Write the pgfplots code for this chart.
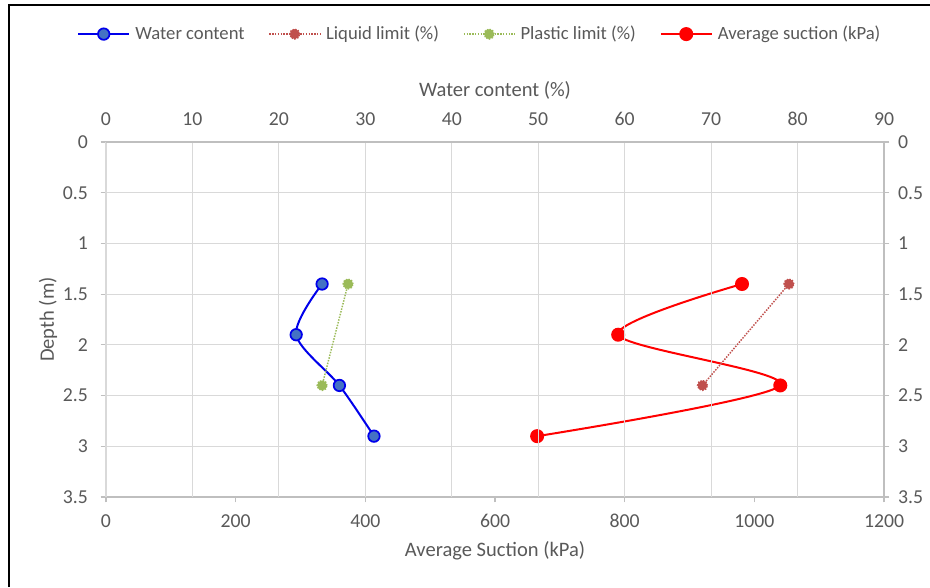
\documentclass[border=0pt]{standalone}
\usepackage{pgfplots}
\pgfplotsset{compat=1.18}
\usepackage{fontspec}
\setmainfont{Carlito}
\definecolor{txt}{RGB}{89,89,89}
\definecolor{gridc}{RGB}{217,217,217}
\definecolor{axc}{RGB}{191,191,191}
\definecolor{wcfill}{RGB}{68,114,196}
\definecolor{wcline}{RGB}{0,0,235}
\definecolor{llc}{RGB}{192,80,77}
\definecolor{plc}{RGB}{155,187,89}
\begin{document}
\begin{tikzpicture}
\useasboundingbox (0,0) rectangle (697.5pt,440.25pt);
\draw[black, line width=1.1pt] (6.75pt,0) -- (6.75pt,436.5pt) -- (697.5pt,436.5pt);
\pgfplotsset{common/.style={
  width=583.5pt, height=266.25pt, scale only axis,
  at={(79.5pt,67.5pt)}, anchor=south west,
  y dir=reverse, ymin=0, ymax=3.5, ytick={0,0.5,1,1.5,2,2.5,3,3.5},
  yticklabels={0,0.5,1,1.5,2,2.5,3,3.5},
  ticklabel style={font=\fontsize{14.8}{16}\selectfont, text=txt},
  label style={font=\fontsize{15.4}{17}\selectfont, text=txt},
  /pgf/number format/assume math mode=true,
  /pgf/number format/1000 sep={},
  grid style={gridc, line width=0.8pt},
  axis line style={axc, line width=0.8pt},
  tick style={axc, line width=0.8pt},
  tick align=outside, major tick length=4pt,
}}
% bottom / left axis: suction
\begin{axis}[common,
  xmin=0, xmax=1200, xtick={0,200,...,1200},
  axis x line*=bottom, axis y line*=left,
  ymajorgrids,
  xticklabel style={yshift=-5.5pt},
  yticklabel style={xshift=-6pt},
  xlabel={Average Suction (kPa)}, ylabel={Depth (m)},
  xlabel style={at={(axis description cs:0.5,-0.152)}, anchor=center},
  ylabel style={at={(axis description cs:-0.0745,0.5)}, anchor=center},
]
\addplot[red, line width=1.5pt, smooth, mark=*, mark size=4.5pt, mark options={fill=red, draw=red, solid}]
  coordinates {(981,1.4) (790,1.9) (1040,2.4) (665,2.9)};
\end{axis}
% top / right axis: water content
\begin{axis}[common,
  xmin=0, xmax=90, xtick={0,10,...,90},
  axis x line*=top, axis y line*=right,
  xmajorgrids,
  xtick style={draw=none},
  xticklabel style={yshift=5pt},
  yticklabel style={xshift=3pt},
  xlabel={Water content (\%)},
  xlabel style={at={(axis description cs:0.5,1.1465)}, anchor=center},
  legend columns=4,
  legend style={draw=none, fill=none, at={(axis description cs:0.481,1.304)}, anchor=center,
    font=\fontsize{14}{16}\selectfont, text=txt,
    /tikz/every odd column/.append style={column sep=2pt},
    /tikz/every even column/.append style={column sep=16pt}},
  legend image code/.code={\draw[mark repeat=2,mark phase=2,#1] plot coordinates {(0pt,0pt) (19pt,0pt) (38pt,0pt)};},
]
\addplot[wcline, line width=1.5pt, smooth, mark=*, mark size=4.3pt, mark options={fill=wcfill, draw=wcline, solid, line width=1.3pt}]
  coordinates {(25,1.4) (22,1.9) (27,2.4) (31,2.9)};
\addlegendentry{Water content}
\addplot[llc, line width=1.1pt, densely dotted, mark=*, mark size=3.7pt, mark options={fill=llc, draw=llc, densely dotted}]
  coordinates {(79,1.4) (69,2.4)};
\addlegendentry{Liquid limit (\%)}
\addplot[plc, line width=1.1pt, densely dotted, mark=*, mark size=3.7pt, mark options={fill=plc, draw=plc, densely dotted}]
  coordinates {(28,1.4) (25,2.4)};
\addlegendentry{Plastic limit (\%)}
\addlegendimage{red, line width=1.5pt, mark=*, mark size=4.5pt, mark options={fill=red, draw=red, solid}}
\addlegendentry{Average suction (kPa)}
\end{axis}
\end{tikzpicture}
\end{document}
